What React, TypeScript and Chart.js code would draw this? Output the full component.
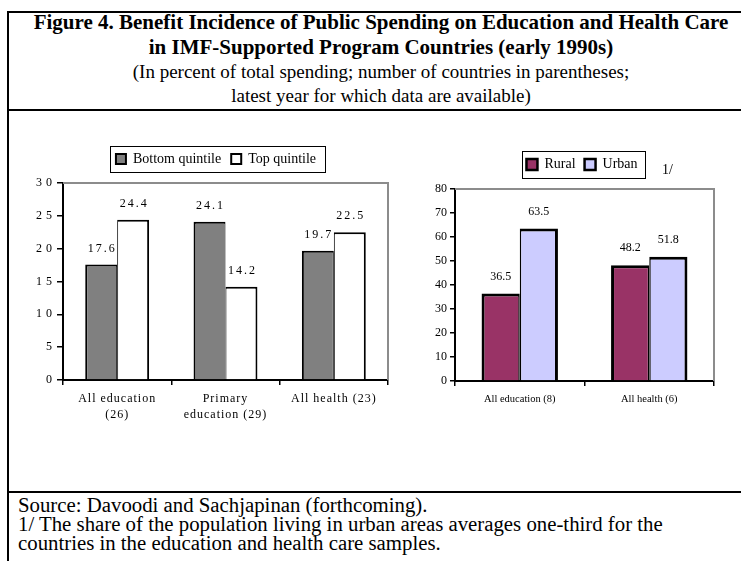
import React, { useEffect, useRef } from "react";
import { Chart, registerables } from "chart.js";

Chart.register(...registerables);

const SERIF = '"Liberation Serif", "Times New Roman", Times, serif';
Chart.defaults.font.family = SERIF;
Chart.defaults.color = "#000";

// ---------- Text ----------
const titleLines = [
  "Figure 4. Benefit Incidence of Public Spending on Education and Health Care",
  "in IMF-Supported Program Countries (early 1990s)",
];
const subtitleLines = [
  "(In percent of total spending; number of countries in parentheses;",
  "latest year for which data are available)",
];
const footerLines = [
  "Source: Davoodi and Sachjapinan (forthcoming).",
  "1/ The share of the population living in urban areas averages one-third for the",
  "countries in the education and health care samples.",
];
const rightNote = "1/";

// ---------- Left chart data ----------
const leftCategories: (string | string[])[] = [
  ["All education", "(26)"],
  ["Primary", "education (29)"],
  "All health (23)",
];
const leftSeriesNames = ["Bottom quintile", "Top quintile"];
const bottomQuintile = [17.6, 24.1, 19.7];
const topQuintile = [24.4, 14.2, 22.5];
const leftYMax = 30;
const leftYStep = 5;

// ---------- Right chart data ----------
const rightCategories = ["All education (8)", "All health (6)"];
const rightSeriesNames = ["Rural", "Urban"];
const ruralShare = [36.5, 48.2];
const urbanShare = [63.5, 51.8];
const rightYMax = 80;
const rightYStep = 10;

// ---------- Plugins ----------
const legendFramePlugin = {
  id: "legendFrame",
  beforeLayout(chart: any, _a: any, opts: any) {
    const lg = chart.legend;
    if (lg && !lg.__extraPatched) {
      const orig = lg.fit.bind(lg);
      lg.fit = function () {
        orig();
        this.height += opts.extraHeight || 0;
      };
      lg.__extraPatched = true;
    }
  },
  afterLayout(chart: any, _a: any, opts: any) {
    const lg = chart.legend;
    if (!lg) return;
    const ca = chart.chartArea;
    const target = (ca.left + ca.right) / 2 + (opts.centerOffset || 0);
    const cur = (lg.left + lg.right) / 2;
    const d = target - cur;
    lg.left += d;
    lg.right += d;
  },
  afterDraw(chart: any, _a: any, opts: any) {
    const lg = chart.legend;
    if (!lg || !lg.legendHitBoxes || !lg.legendHitBoxes.length) return;
    const hb = lg.legendHitBoxes;
    const left = Math.min(...hb.map((h: any) => h.left)) - opts.padLeft;
    const right = Math.max(...hb.map((h: any) => h.left + h.width)) + opts.padRight;
    const cy = hb[0].top + hb[0].height / 2;
    const ctx = chart.ctx;
    ctx.save();
    ctx.strokeStyle = "#000";
    ctx.lineWidth = 1;
    ctx.strokeRect(
      Math.round(left) + 0.5,
      Math.round(cy - opts.halfHeight) + 0.5,
      Math.round(right - left),
      Math.round(opts.halfHeight * 2)
    );
    ctx.restore();
  },
};

const plotFramePlugin = {
  id: "plotFrame",
  afterDatasetsDraw(chart: any, _a: any, opts: any) {
    const { left, top, right, bottom } = chart.chartArea;
    const ctx = chart.ctx;
    ctx.save();
    ctx.strokeStyle = opts.color || "#8a8a8a";
    ctx.lineWidth = opts.width || 2;
    ctx.beginPath();
    ctx.moveTo(left, top);
    ctx.lineTo(right, top);
    ctx.lineTo(right, bottom);
    ctx.stroke();
    ctx.restore();
  },
};

const valueLabelPlugin = {
  id: "valueLabels",
  afterDatasetsDraw(chart: any, _a: any, opts: any) {
    const ctx = chart.ctx;
    ctx.save();
    ctx.font = `${opts.size}px ${SERIF}`;
    ctx.fillStyle = "#000";
    ctx.textAlign = "center";
    ctx.textBaseline = "middle";
    const ls = opts.spacing || 0;
    ctx.letterSpacing = `${ls}px`;
    chart.data.datasets.forEach((ds: any, di: number) => {
      const meta = chart.getDatasetMeta(di);
      meta.data.forEach((el: any, i: number) => {
        const v = ds.data[i] as number;
        ctx.fillText(v.toFixed(1), el.x + ls / 2, el.y - opts.offset);
      });
    });
    ctx.restore();
  },
};

const tickSpacingPlugin = {
  id: "tickSpacing",
  beforeDraw(chart: any, _a: any, opts: any) {
    ["x", "y"].forEach((id) => {
      const s = chart.scales[id];
      const sp = opts[id];
      if (!s || !sp || s.__lsPatched) return;
      const orig = s.drawLabels.bind(s);
      s.drawLabels = (area: any) => {
        const c = chart.ctx;
        c.save();
        c.letterSpacing = sp;
        orig(area);
        c.restore();
      };
      s.__lsPatched = true;
    });
  },
};

function legendItems(lineWidth: number) {
  return (chart: any) => {
    const items = (Chart.defaults.plugins.legend.labels as any).generateLabels(chart);
    items.forEach((it: any) => {
      it.lineWidth = lineWidth;
      it.strokeStyle = "#000";
    });
    return items;
  };
}

// ---------- Chart configs ----------
function leftConfig(): any {
  return {
    type: "bar",
    data: {
      labels: leftCategories,
      datasets: [
        {
          label: leftSeriesNames[0],
          data: bottomQuintile,
          backgroundColor: "#808080",
          borderColor: "#000",
          borderWidth: { top: 2, left: 2, right: 1, bottom: 0 },
          borderSkipped: false,
          categoryPercentage: 0.59,
          barPercentage: 1,
        },
        {
          label: leftSeriesNames[1],
          data: topQuintile,
          backgroundColor: "#ffffff",
          borderColor: "#000",
          borderWidth: { top: 2, left: 1, right: 2, bottom: 0 },
          borderSkipped: false,
          categoryPercentage: 0.59,
          barPercentage: 1,
        },
      ],
    },
    options: {
      responsive: false,
      animation: false,
      events: [],
      layout: { padding: { left: 10, right: 7, top: 7, bottom: 0 } },
      plugins: {
        legend: {
          display: true,
          position: "top",
          labels: {
            boxWidth: 10,
            boxHeight: 10,
            padding: 10,
            font: { size: 14 },
            color: "#000",
            generateLabels: legendItems(2),
          },
        },
        tooltip: { enabled: false },
        legendFrame: { extraHeight: 7, padLeft: 6, padRight: 9, halfHeight: 13, centerOffset: -9.5 },
        plotFrame: { color: "#8c8c8c", width: 2 },
        valueLabels: { size: 12, offset: 16, spacing: 2 },
        tickSpacing: { y: "4px", x: "1px" },
      },
      scales: {
        x: {
          afterFit(scale: any) {
            scale.height = 50;
          },
          grid: {
            offset: true,
            drawOnChartArea: false,
            tickLength: 5,
            color: "#000",
            lineWidth: 1.5,
          },
          border: { display: true, color: "#000", width: 2 },
          ticks: {
            font: { size: 12, lineHeight: 1.4 },
            padding: 5,
            maxRotation: 0,
            autoSkip: false,
          },
        },
        y: {
          min: 0,
          max: leftYMax,
          afterFit(scale: any) {
            scale.width = 33;
          },
          grid: {
            drawOnChartArea: false,
            tickLength: 6,
            color: "#000",
            lineWidth: 1.5,
          },
          border: { display: true, color: "#000", width: 2 },
          ticks: { stepSize: leftYStep, font: { size: 12 }, padding: 1 },
        },
      },
    },
    plugins: [legendFramePlugin, plotFramePlugin, valueLabelPlugin, tickSpacingPlugin],
  };
}

function rightConfig(): any {
  return {
    type: "bar",
    data: {
      labels: rightCategories,
      datasets: [
        {
          label: rightSeriesNames[0],
          data: ruralShare,
          backgroundColor: "#993366",
          borderColor: "#000",
          borderWidth: { top: 3, left: 3, right: 1.5, bottom: 0 },
          borderSkipped: false,
          categoryPercentage: 0.59,
          barPercentage: 1,
        },
        {
          label: rightSeriesNames[1],
          data: urbanShare,
          backgroundColor: "#CCCCFF",
          borderColor: "#000",
          borderWidth: { top: 3, left: 1.5, right: 3, bottom: 0 },
          borderSkipped: false,
          categoryPercentage: 0.59,
          barPercentage: 1,
        },
      ],
    },
    options: {
      responsive: false,
      animation: false,
      events: [],
      layout: { padding: { left: 30, right: 8, top: 13.5, bottom: 0 } },
      plugins: {
        legend: {
          display: true,
          position: "top",
          labels: {
            boxWidth: 11,
            boxHeight: 11,
            padding: 9,
            font: { size: 14 },
            color: "#000",
            generateLabels: legendItems(2.5),
          },
        },
        tooltip: { enabled: false },
        legendFrame: { extraHeight: 7.5, padLeft: 4, padRight: 8, halfHeight: 13.5, centerOffset: -2.5 },
        plotFrame: { color: "#8c8c8c", width: 2 },
        valueLabels: { size: 12, offset: 17, spacing: 0 },
      },
      scales: {
        x: {
          afterFit(scale: any) {
            scale.height = 49;
          },
          grid: {
            offset: true,
            drawOnChartArea: false,
            tickLength: 5,
            color: "#000",
            lineWidth: 1.5,
          },
          border: { display: true, color: "#000", width: 2 },
          ticks: {
            font: { size: 10.5 },
            padding: 7,
            maxRotation: 0,
            autoSkip: false,
          },
        },
        y: {
          min: 0,
          max: rightYMax,
          afterFit(scale: any) {
            scale.width = 25;
          },
          grid: {
            drawOnChartArea: false,
            tickLength: 5,
            color: "#000",
            lineWidth: 1.5,
          },
          border: { display: true, color: "#000", width: 2 },
          ticks: { stepSize: rightYStep, font: { size: 12 }, padding: 3 },
        },
      },
    },
    plugins: [legendFramePlugin, plotFramePlugin, valueLabelPlugin],
  };
}

function ChartCanvas(props: { make: () => any; left: number; top: number; width: number; height: number }) {
  const ref = useRef<HTMLCanvasElement>(null);
  useEffect(() => {
    const chart = new Chart(ref.current as HTMLCanvasElement, props.make());
    return () => chart.destroy();
  }, []);
  return (
    <div style={{ position: "absolute", left: props.left, top: props.top, width: props.width, height: props.height }}>
      <canvas ref={ref} width={props.width} height={props.height} style={{ display: "block" }} />
    </div>
  );
}

export default function App() {
  return (
    <div
      style={{
        position: "absolute",
        left: 0,
        top: 0,
        width: 741,
        height: 561,
        overflow: "hidden",
        background: "#fff",
        fontFamily: SERIF,
        color: "#000",
      }}
    >
      {/* outer frame (left + top) */}
      <div style={{ position: "absolute", left: 7, top: 11, width: 760, height: 560, borderLeft: "2px solid #000", borderTop: "2px solid #000" }} />
      {/* header separator */}
      <div style={{ position: "absolute", left: 7, top: 109, width: 740, height: 2, background: "#000" }} />
      {/* footer separator */}
      <div style={{ position: "absolute", left: 7, top: 491, width: 740, height: 2, background: "#000" }} />

      {/* title */}
      <div style={{ position: "absolute", left: 9, top: 10, width: 744, textAlign: "center", whiteSpace: "nowrap" }}>
        {titleLines.map((t, i) => (
          <div key={"t" + i} style={{ fontSize: 21, fontWeight: "bold", lineHeight: "25px" }}>{t}</div>
        ))}
        {subtitleLines.map((t, i) => (
          <div key={"s" + i} style={{ fontSize: 19, lineHeight: "24px" }}>{t}</div>
        ))}
      </div>

      <ChartCanvas make={leftConfig} left={20} top={135} width={375} height={295} />
      <ChartCanvas make={rightConfig} left={400} top={135} width={322} height={295} />

      <div style={{ position: "absolute", left: 662, top: 161, fontSize: 14, lineHeight: "18px" }}>{rightNote}</div>

      {/* footer */}
      <div style={{ position: "absolute", left: 18, top: 495, whiteSpace: "nowrap" }}>
        {footerLines.map((t, i) => (
          <div key={"f" + i} style={{ fontSize: 20.8, lineHeight: "19px" }}>{t}</div>
        ))}
      </div>
    </div>
  );
}
